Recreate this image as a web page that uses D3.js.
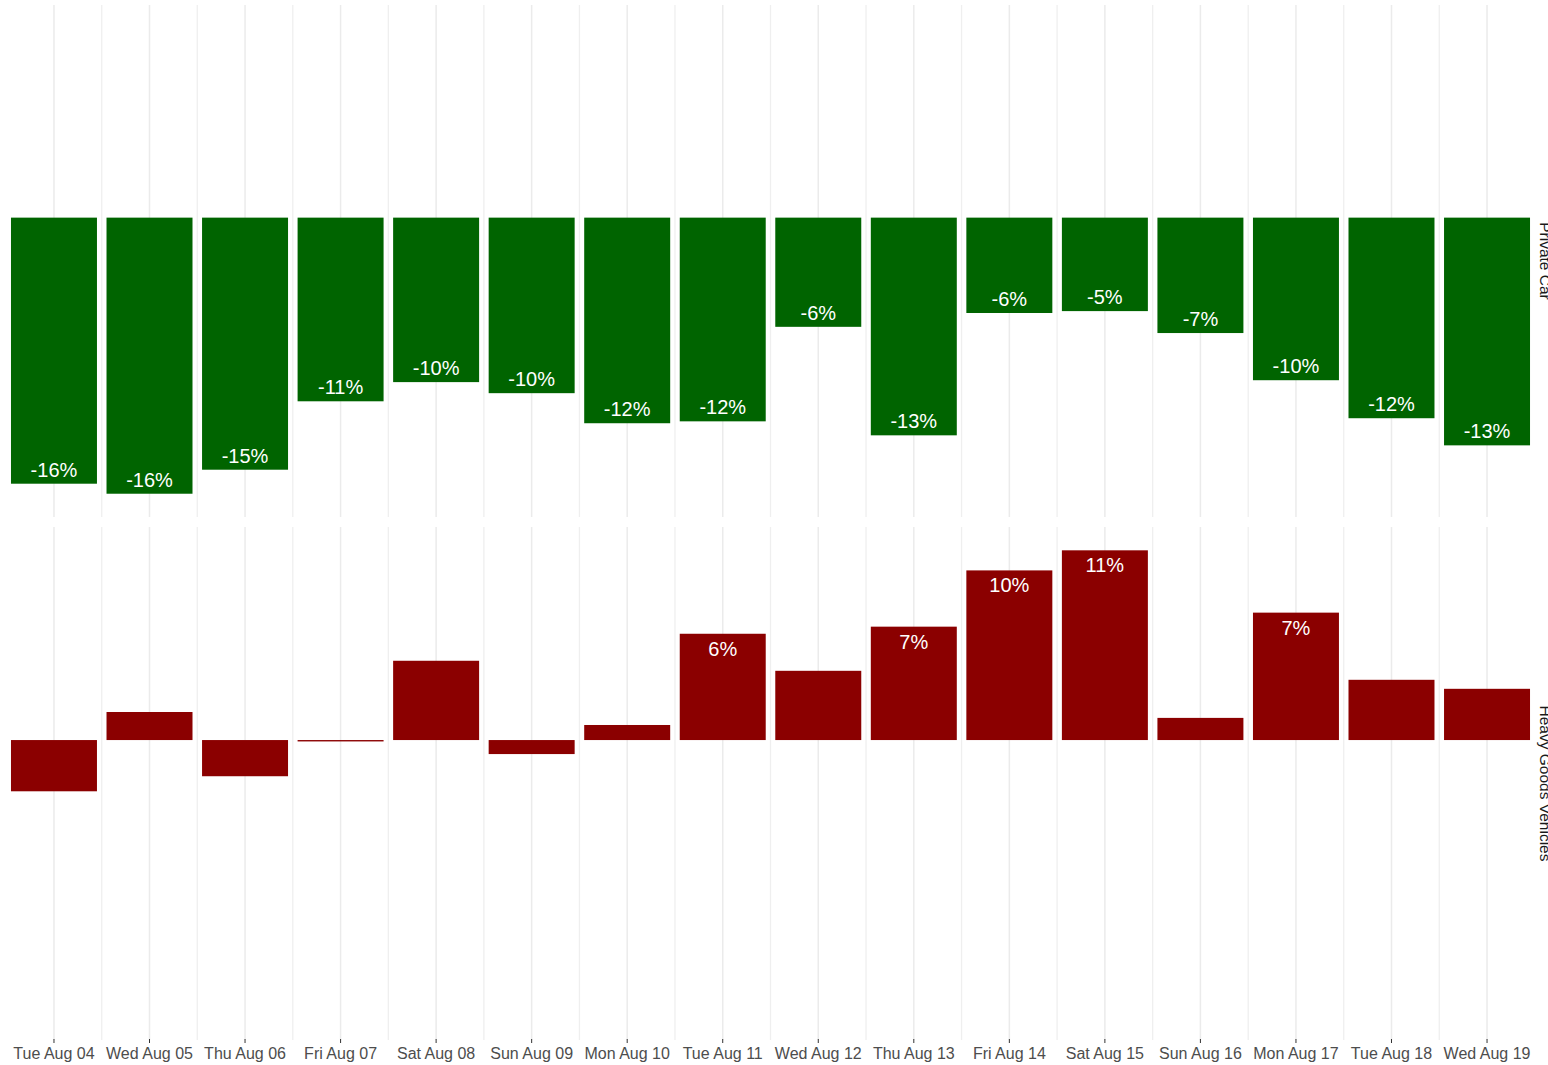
<!DOCTYPE html>
<html>
<head>
<meta charset="utf-8">
<script src="https://cdn.jsdelivr.net/npm/d3@7"></script>
<style>
  html, body { margin: 0; padding: 0; background: #ffffff; }
  svg { display: block; }
</style>
</head>
<body>
<svg id="chart" width="1548" height="1065"></svg>
<script>
// ---- data ----
const dates = ["Tue Aug 04","Wed Aug 05","Thu Aug 06","Fri Aug 07","Sat Aug 08","Sun Aug 09","Mon Aug 10","Tue Aug 11","Wed Aug 12","Thu Aug 13","Fri Aug 14","Sat Aug 15","Sun Aug 16","Mon Aug 17","Tue Aug 18","Wed Aug 19"];
const facets = ["Private Car", "Heavy Goods Vehicles"];
const facetColors = ["#006400", "#8b0000"];
const privateCar = [-15.40,-15.98,-14.59,-10.63,-9.52,-10.16,-11.90,-11.79,-6.32,-12.60,-5.52,-5.41,-6.68,-9.41,-11.61,-13.18];
const privateCarLabels = ["-16%","-16%","-15%","-11%","-10%","-10%","-12%","-12%","-6%","-13%","-6%","-5%","-7%","-10%","-12%","-13%"];
const hgv = [-2.96,1.62,-2.09,-0.08,4.58,-0.81,0.87,6.14,4.00,6.55,9.80,10.96,1.28,7.36,3.48,2.96];
const hgvLabels = ["","","","","","","","6%","","7%","10%","11%","","7%","",""];

const seriesValues = [privateCar, hgv];
const seriesLabels = [privateCarLabels, hgvLabels];

// ---- layout ----
const svg = d3.select("#chart");
const panels = [{top: 5, bottom: 517}, {top: 527, bottom: 1040}];
const fontFamily = "'Liberation Sans', Arial, Helvetica, sans-serif";

const x = d3.scaleBand().domain(dates).range([6.2, 1534.8]).paddingInner(0.1).paddingOuter(0.05);
const step = x.step();
const xc = d => 6.2 + step * (dates.indexOf(d) + 0.5);
const barW = step * 0.9;

const all = privateCar.concat(hgv);
const vmin = d3.min(all), vmax = d3.max(all);
const pad = (vmax - vmin) * 0.05;

panels.forEach((p, i) => {
  const y = d3.scaleLinear().domain([vmin - pad, vmax + pad]).range([p.bottom, p.top]);
  const g = svg.append("g");

  // minor gridlines (between days)
  g.selectAll("line.minor").data(dates.slice(1)).enter().append("line")
    .attr("x1", d => xc(d) - step / 2).attr("x2", d => xc(d) - step / 2)
    .attr("y1", p.top).attr("y2", p.bottom)
    .attr("stroke", "#efefef").attr("stroke-width", 1.3);
  // major gridlines
  g.selectAll("line.major").data(dates).enter().append("line")
    .attr("x1", d => xc(d)).attr("x2", d => xc(d))
    .attr("y1", p.top).attr("y2", p.bottom)
    .attr("stroke", "#ebebeb").attr("stroke-width", 1.5);

  const vals = seriesValues[i];
  const labs = seriesLabels[i];
  const data = dates.map((d, j) => ({d, v: vals[j], l: labs[j]}));

  g.selectAll("rect").data(data).enter().append("rect")
    .attr("x", d => xc(d.d) - barW / 2)
    .attr("width", barW)
    .attr("y", d => Math.min(y(0), y(d.v)))
    .attr("height", d => Math.max(1.2, Math.abs(y(d.v) - y(0))))
    .attr("fill", facetColors[i]);

  g.selectAll("text.val").data(data.filter(d => d.l !== "")).enter().append("text")
    .attr("x", d => xc(d.d))
    .attr("y", d => d.v < 0 ? y(d.v) - 7 : y(d.v) + 22)
    .attr("text-anchor", "middle")
    .attr("font-family", fontFamily)
    .attr("font-size", "20px")
    .attr("fill", "#ffffff")
    .text(d => d.l);

  // strip label on right, rotated (clipped by the image edge as in the reference)
  svg.append("text")
    .attr("transform", `translate(1540,${(p.top + p.bottom) / 2}) rotate(90)`)
    .attr("text-anchor", "middle")
    .attr("font-family", fontFamily)
    .attr("font-size", "15.5px")
    .attr("fill", "#1a1a1a")
    .text(facets[i]);
});

// x axis
const axisG = svg.append("g");
axisG.selectAll("line.tick").data(dates).enter().append("line")
  .attr("x1", d => xc(d)).attr("x2", d => xc(d))
  .attr("y1", 1039).attr("y2", 1043)
  .attr("stroke", "#333333").attr("stroke-width", 1);
axisG.selectAll("text").data(dates).enter().append("text")
  .attr("x", d => xc(d)).attr("y", 1058.5)
  .attr("text-anchor", "middle")
  .attr("font-family", fontFamily)
  .attr("font-size", "16px")
  .attr("fill", "#4d4d4d")
  .text(d => d);
</script>
</body>
</html>
